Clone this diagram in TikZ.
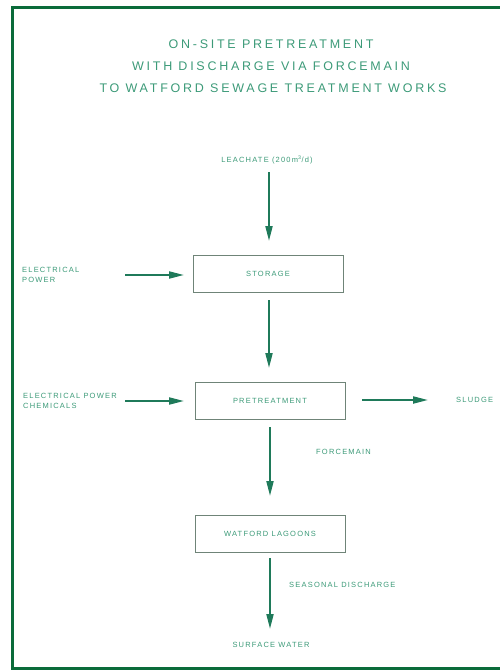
\documentclass[tikz,border=0pt]{standalone}
\usepackage{fontspec}
\setmainfont{Liberation Sans}
\usetikzlibrary{arrows.meta}
\definecolor{framegreen}{HTML}{0B6B3A}
\definecolor{txtgreen}{HTML}{3C9A78}
\definecolor{arrgreen}{HTML}{1F7A5A}
\definecolor{boxgray}{HTML}{6F8478}
\newfontfamily\plotfont[LetterSpace=16]{Liberation Sans}
\newfontfamily\titlefont[LetterSpace=22]{Liberation Sans}
\tikzset{
  lbl/.style={text=txtgreen, font=\plotfont\fontsize{7.5}{10.5}\selectfont, inner sep=0pt},
  ttl/.style={text=txtgreen, font=\titlefont\fontsize{12.5}{14}\selectfont, inner sep=0pt},
  procbox/.style={draw=boxgray, line width=1pt, minimum width=150pt, minimum height=37pt, inner sep=0pt, text=txtgreen, font=\plotfont\fontsize{7.5}{8.5}\selectfont},
  flow/.style={draw=arrgreen, line width=2pt, -{Triangle[length=15pt,width=7pt]}}
}
\begin{document}
\begin{tikzpicture}[x=1pt,y=-1pt]
\useasboundingbox (0,0) rectangle (499,672);
\draw[framegreen, line width=3pt] (12,7) rectangle (520,668);
% title
\node[ttl] (t1) at (271,44) {ON-SITE PRETREATMENT};
\node[ttl] (t2) at (271,66) {WITH DISCHARGE VIA FORCEMAIN};
\node[ttl] (t3) at (273,88) {TO WATFORD SEWAGE TREATMENT WORKS};
% boxes
\node[procbox] (storage) at (268,274) {STORAGE};
\node[procbox] (pretreat) at (270,400.5) {PRETREATMENT};
\node[procbox] (lagoons) at (270,533.5) {WATFORD LAGOONS};
% labels
\node[lbl] (leach) at (267,160) {LEACHATE (200m\textsuperscript{3}/d)};
\node[lbl, align=left, anchor=west] (ep1) at (22,275) {ELECTRICAL\\POWER};
\node[lbl, align=left, anchor=west] (ep2) at (23,401) {ELECTRICAL POWER\\CHEMICALS};
\node[lbl, anchor=west] (sludge) at (456,400) {SLUDGE};
\node[lbl, anchor=west] (force) at (316,452) {FORCEMAIN};
\node[lbl, anchor=west] (seas) at (289,585) {SEASONAL DISCHARGE};
\node[lbl] (surf) at (271,645) {SURFACE WATER};
% coordinates for free arrow ends
\coordinate (a1s) at (269,172);
\coordinate (a1e) at (269,241);
\coordinate (a2s) at (269,300);
\coordinate (a2e) at (269,368);
\coordinate (a3s) at (270,427);
\coordinate (a3e) at (270,496);
\coordinate (a4s) at (270,558);
\coordinate (a4e) at (270,629);
\coordinate (h1s) at (125,275);
\coordinate (h1e) at (184,275);
\coordinate (h2s) at (125,401);
\coordinate (h2e) at (184,401);
\coordinate (h3s) at (362,400);
\coordinate (h3e) at (428,400);
% arrows
\draw[flow] (a1s) -- (a1e);
\draw[flow] (a2s) -- (a2e);
\draw[flow] (a3s) -- (a3e);
\draw[flow] (a4s) -- (a4e);
\draw[flow] (h1s) -- (h1e);
\draw[flow] (h2s) -- (h2e);
\draw[flow] (h3s) -- (h3e);
\end{tikzpicture}
\end{document}
